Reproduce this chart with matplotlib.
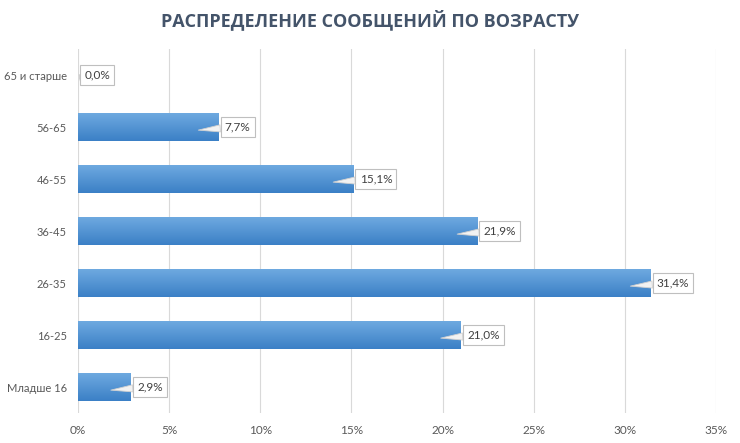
import numpy as np
import matplotlib
matplotlib.use('Agg')
import matplotlib.pyplot as plt
from matplotlib.colors import LinearSegmentedColormap

categories = ['Младше 16', '16-25', '26-35', '36-45', '46-55', '56-65', '65 и старше']
shares = [2.9, 21.0, 31.4, 21.9, 15.1, 7.7, 0.0]
xticks = [0, 5, 10, 15, 20, 25, 30, 35]

plt.rcParams['font.family'] = ['Lato', 'DejaVu Sans']

fig = plt.figure(figsize=(7.4, 4.43), dpi=100)
ax = fig.add_axes([78/740, 30/443, (716-78)/740, (413-49)/443])

y = np.arange(len(categories))
bars = ax.barh(y, shares, height=0.52, color='none', edgecolor='none', zorder=3)

# vertical gradient inside each bar, lighter on top
cmap = LinearSegmentedColormap.from_list('bar', ['#3b80c6', '#6ea9e0'])
grad = np.linspace(0, 1, 64).reshape(-1, 1)
for b in bars:
    if b.get_width() <= 0:
        continue
    x0, y0, w, h = b.get_x(), b.get_y(), b.get_width(), b.get_height()
    ax.imshow(grad, cmap=cmap, aspect='auto', origin='lower',
              extent=[x0, x0 + w, y0, y0 + h], zorder=3, interpolation='bicubic')

# callout labels
for yi, v in zip(y, shares):
    txt = ('%.1f%%' % v).replace('.', ',')
    tip = max(v - 1.1, 0.1)
    ax.annotate(txt, xy=(tip, yi - 0.06), xytext=(v + 0.35, yi),
                textcoords='data', ha='left', va='center', fontsize=8.5,
                color='#404040', zorder=5,
                bbox=dict(boxstyle='square,pad=0.35', fc='white', ec='#bfbfbf', lw=0.8),
                arrowprops=dict(arrowstyle='wedge,tail_width=0.6,shrink_factor=0.5',
                                fc='#f2f2f2', ec='#d0d0d0', lw=0.6,
                                shrinkA=0, shrinkB=0))

ax.set_xlim(0, 35)
ax.set_ylim(-0.5, len(categories) - 0.5)
ax.set_xticks(xticks)
ax.set_xticklabels(['%d%%' % t for t in xticks])
ax.set_yticks(y)
ax.set_yticklabels(categories)
ax.tick_params(axis='both', length=0, colors='#595959')
ax.tick_params(axis='x', pad=9, labelsize=8.5)
ax.tick_params(axis='y', pad=8, labelsize=8)
ax.grid(axis='x', color='#d9d9d9', lw=0.8, zorder=0)
ax.set_axisbelow(True)
for s in ax.spines.values():
    s.set_visible(False)

fig.text(370/740, 1 - 20/443, 'РАСПРЕДЕЛЕНИЕ СООБЩЕНИЙ ПО ВОЗРАСТУ',
         ha='center', va='center', fontsize=13, fontweight='bold', color='#44546a',
         family=['Open Sans', 'DejaVu Sans'])

fig.savefig('out.png', dpi=100)
